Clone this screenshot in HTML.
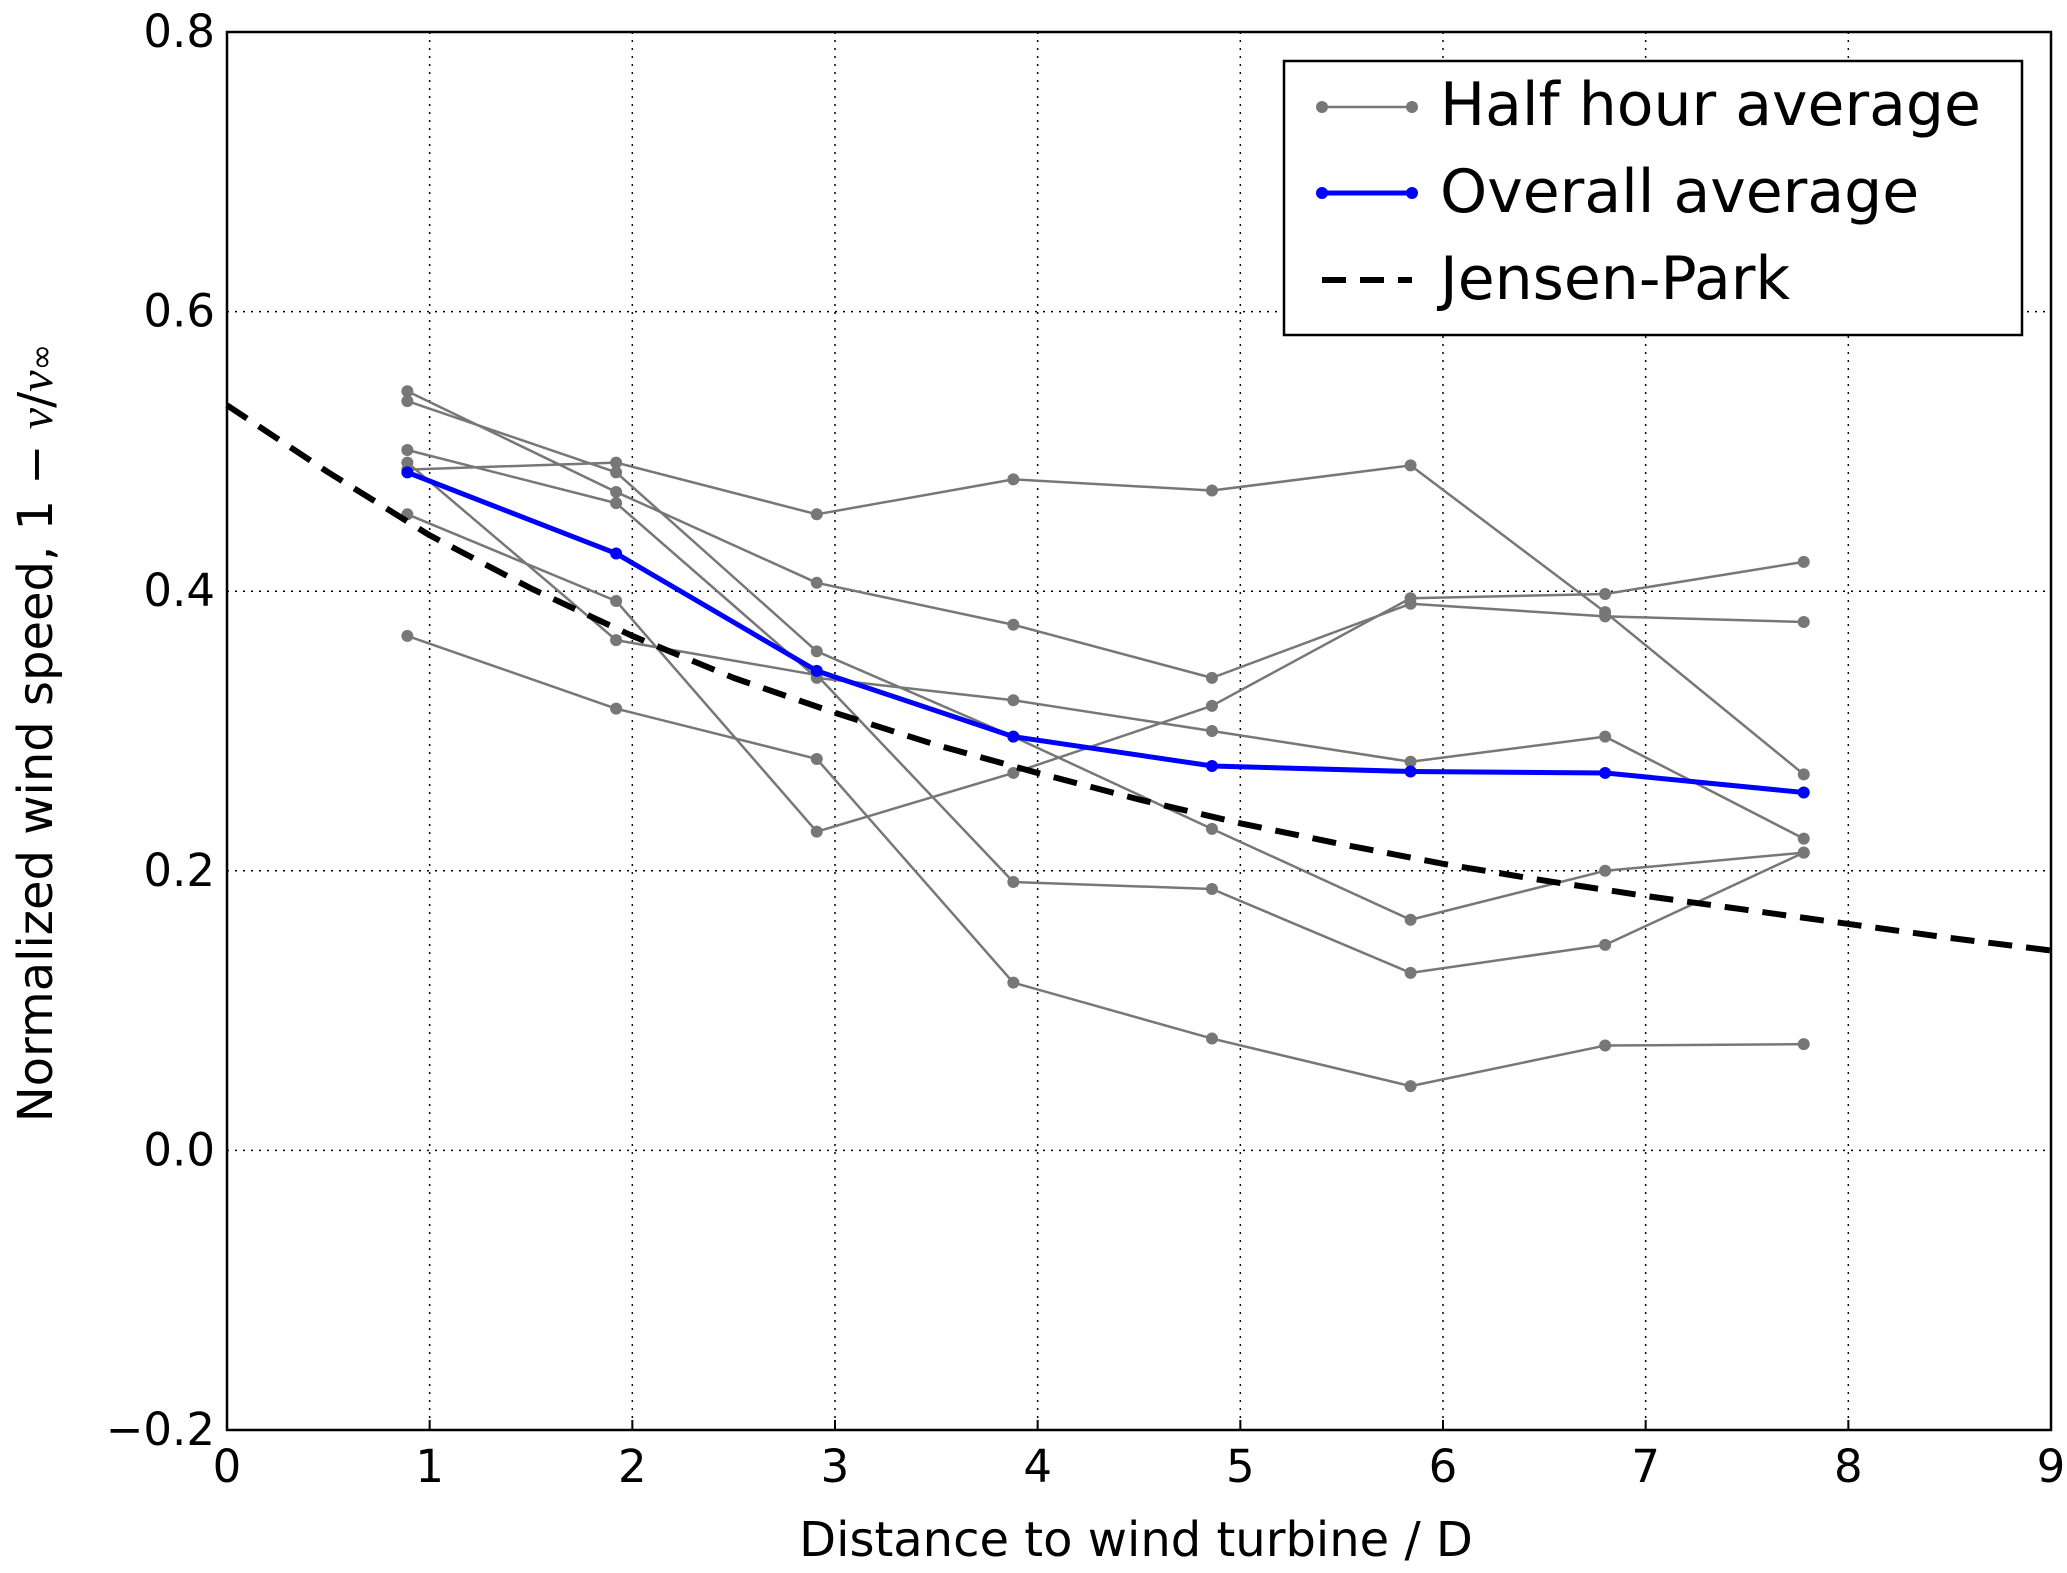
<!DOCTYPE html>
<html><head><meta charset="utf-8"><style>
html,body{margin:0;padding:0;background:#fff;}
svg{display:block;font-family:"DejaVu Sans","Liberation Sans",sans-serif;}
</style></head><body>
<svg id="chart" width="2067" height="1573" viewBox="0 0 2067 1573" xmlns="http://www.w3.org/2000/svg">
<g id="grid"></g>
<g id="series"></g>
<rect x="227" y="32" width="1824" height="1398" fill="none" stroke="#000" stroke-width="2.5"/>
<g id="ticks" font-size="45" fill="#000"></g>
<text x="1136" y="1556" font-size="48" text-anchor="middle">Distance to wind turbine / D</text>
<text transform="translate(52,733) rotate(-90)" font-size="48" text-anchor="middle">Normalized wind speed,  1 − <tspan font-family="Liberation Serif" font-style="italic">v</tspan>/<tspan font-family="Liberation Serif" font-style="italic">v</tspan><tspan font-size="32">∞</tspan></text>
<g>
<rect x="1284" y="61" width="738" height="274" fill="#fff" stroke="#000" stroke-width="2.5"/>
<g>
<line x1="1322" y1="107" x2="1412" y2="107" stroke="#777" stroke-width="2.5"/><circle cx="1322" cy="107" r="6" fill="#777"/><circle cx="1412" cy="107" r="6" fill="#777"/>
<text x="1440" y="125" font-size="60">Half hour average</text></g>
<g>
<line x1="1322" y1="193" x2="1412" y2="193" stroke="#0000ff" stroke-width="5"/><circle cx="1322" cy="193" r="6" fill="#0000ff"/><circle cx="1412" cy="193" r="6" fill="#0000ff"/>
<text x="1440" y="212" font-size="60">Overall average</text></g>
<g>
<line x1="1322" y1="280" x2="1412" y2="280" stroke="#000" stroke-width="6" stroke-dasharray="24,14"/>
<text x="1440" y="299" font-size="60">Jensen-Park</text></g>
</g>
</svg>
<script>
const xPositions = [0.89, 1.92, 2.91, 3.88, 4.86, 5.84, 6.80, 7.78];
const halfHour1 = [0.368,0.316,0.280,0.120,0.080,0.046,0.075,0.076];
const halfHour2 = [0.455,0.393,0.228,0.270,0.318,0.395,0.398,0.421];
const halfHour3 = [0.487,0.492,0.455,0.480,0.472,0.490,0.385,0.269];
const halfHour4 = [0.543,0.471,0.406,0.376,0.338,0.391,0.382,0.378];
const halfHour5 = [0.536,0.485,0.357,0.296,0.230,0.165,0.200,0.213];
const halfHour6 = [0.501,0.463,0.338,0.322,0.300,0.278,0.296,0.223];
const halfHour7 = [0.492,0.365,0.340,0.192,0.187,0.127,0.147,0.213];
const overallAvg = [0.485,0.427,0.343,0.296,0.275,0.271,0.270,0.256];
const jensenX = [0,0.5,1,1.5,2,2.5,3,3.5,4,4.5,5,5.5,6,6.5,7,7.5,8,8.5,9];
const jensenY = [0.533,0.485,0.440,0.402,0.368,0.338,0.313,0.290,0.270,0.251,0.234,0.219,0.205,0.193,0.182,0.172,0.162,0.152,0.143];
const xTicks = [0,1,2,3,4,5,6,7,8,9];
const yTicks = [-0.2,0.0,0.2,0.4,0.6,0.8];
const yTickLabels = ["\u22120.2","0.0","0.2","0.4","0.6","0.8"];

const L=227,R=2051,T=32,B=1430;
const sx=v=>L+(v-0)/(9-0)*(R-L);
const sy=v=>B-(v+0.2)/(1.0)*(B-T);
const NS="http://www.w3.org/2000/svg";
function mk(tag,attrs,parent){const e=document.createElementNS(NS,tag);for(const k in attrs)e.setAttribute(k,attrs[k]);parent.appendChild(e);return e;}
const grid=document.getElementById('grid'),ticks=document.getElementById('ticks'),series=document.getElementById('series');
xTicks.forEach(t=>{
  const g=mk('line',{x1:sx(t),x2:sx(t),y1:T,y2:B,stroke:'#000','stroke-width':1.5,'stroke-dasharray':'2,6'},grid);
  
  
  const tk=mk('line',{x1:sx(t),x2:sx(t),y1:B,y2:B-10,stroke:'#000','stroke-width':2},ticks);
  
  
  const lb=mk('text',{x:sx(t),y:B+52,'text-anchor':'middle'},ticks);lb.textContent=t;
  
  
});
yTicks.forEach((t,i)=>{
  const g=mk('line',{x1:L,x2:R,y1:sy(t),y2:sy(t),stroke:'#000','stroke-width':1.5,'stroke-dasharray':'2,6'},grid);
  
  
  const lb=mk('text',{x:L-12,y:sy(t)+15,'text-anchor':'end'},ticks);lb.textContent=yTickLabels[i];
  
  
});
function drawLine(xs,ys,color,w,name,dots,dash){
  const g=mk('g',{},series);
  
  
  const pts=xs.map((x,i)=>sx(x)+','+sy(ys[i])).join(' ');
  const a={points:pts,fill:'none',stroke:color,'stroke-width':w,'stroke-linejoin':'round'};
  if(dash)a['stroke-dasharray']=dash;
  mk('polyline',a,g);
  if(dots)xs.forEach((x,i)=>{const c=mk('circle',{cx:sx(x),cy:sy(ys[i]),r:6,fill:color},g);
    
    });
}
[halfHour1,halfHour2,halfHour3,halfHour4,halfHour5,halfHour6,halfHour7].forEach((s,i)=>drawLine(xPositions,s,'#777',2.5,'half-hour-series-'+(i+1),true));
drawLine(jensenX,jensenY,'#000',6,'jensen-park-line',false,'24,14');
drawLine(xPositions,overallAvg,'#0000ff',5,'overall-average-line',true);
</script>
</body></html>
